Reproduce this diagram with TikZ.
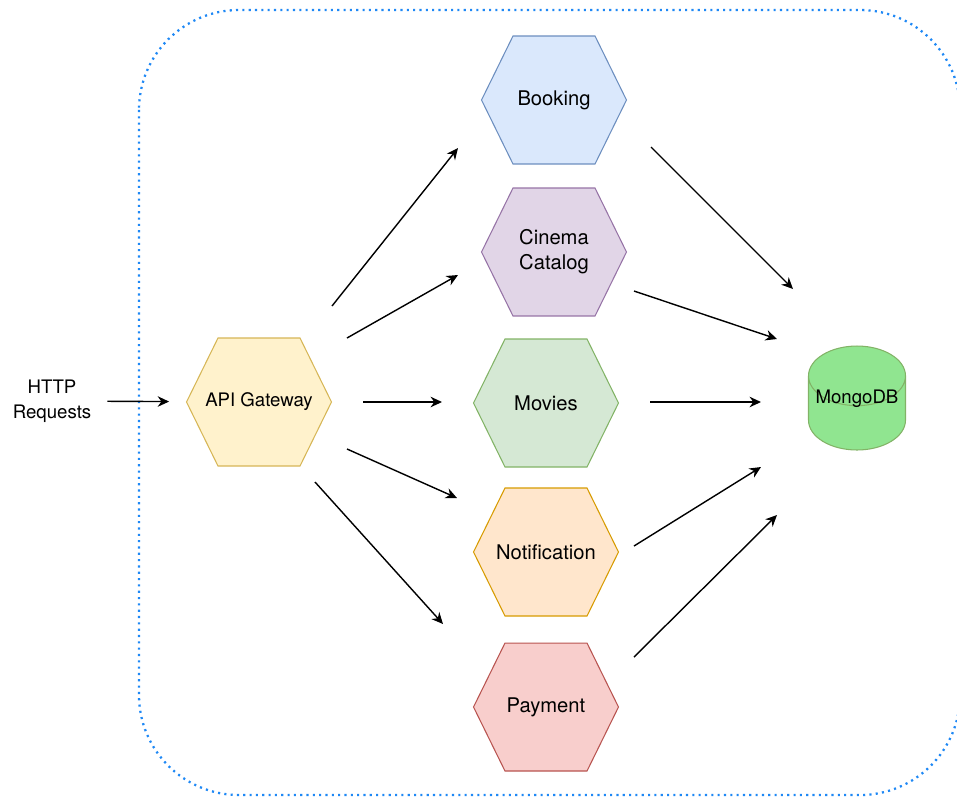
\documentclass[tikz,border=0pt]{standalone}
\usepackage{fontspec}
\setmainfont{TeX Gyre Heros}
\usetikzlibrary{shapes.symbols,shapes.geometric,arrows.meta}

\definecolor{boundary}{HTML}{1E88F5}
\definecolor{gwfill}{HTML}{FFF2CC}\definecolor{gwline}{HTML}{D6B656}
\definecolor{bookfill}{HTML}{DAE8FC}\definecolor{bookline}{HTML}{6C8EBF}
\definecolor{cinefill}{HTML}{E1D5E7}\definecolor{cineline}{HTML}{9673A6}
\definecolor{movfill}{HTML}{D5E8D4}\definecolor{movline}{HTML}{82B366}
\definecolor{notfill}{HTML}{FFE6CC}\definecolor{notline}{HTML}{D79B00}
\definecolor{payfill}{HTML}{F8CECC}\definecolor{payline}{HTML}{B85450}
\definecolor{mongofill}{HTML}{90E590}\definecolor{mongoline}{HTML}{82B366}

\begin{document}
\begin{tikzpicture}[
  x=0.02cm, y=-0.02cm,
  hexa/.style={signal, signal to=east and west, signal pointer angle=127.6, draw, line width=0.6pt,
    minimum width=2.9cm, minimum height=2.56cm, inner ysep=0pt, inner xsep=-0.4cm, align=center,
    font=\fontsize{11.5}{14.2}\selectfont},
  link/.style={-{Stealth[length=6.5pt,width=6pt]}, line width=0.8pt},
  font=\fontsize{10.6}{14.2}\selectfont
]
\useasboundingbox (0,0) rectangle (957,796);

% Boundary
\draw[boundary, line width=1.3pt, dash pattern=on 1.2pt off 2.4pt, rounded corners=2cm] (139,10) rectangle (960,795);

\node[align=center] (http) at (52,401) {HTTP\\Requests};
\node[hexa, fill=gwfill, draw=gwline, font=\fontsize{10.6}{14.2}\selectfont] (gw) at (259,402) {API Gateway};
\node[hexa, fill=bookfill, draw=bookline] (booking) at (554,100) {Booking};
\node[hexa, fill=cinefill, draw=cineline] (cinema) at (554,252) {Cinema\\Catalog};
\node[hexa, fill=movfill, draw=movline] (movies) at (546,403) {Movies};
\node[hexa, fill=notfill, draw=notline] (notif) at (546,552) {Notification};
\node[hexa, fill=payfill, draw=payline] (payment) at (546,707) {Payment};
\node[cylinder, shape border rotate=90, aspect=0.72, draw=mongoline, fill=mongofill, line width=0.6pt,
  minimum width=1.94cm, minimum height=2.08cm, inner sep=0pt, anchor=shape center] (mongo) at (857,398)
  {\raisebox{0.2cm}[0pt][0pt]{MongoDB}};

% Arrow ends
\coordinate (gw-b) at (332,306);  \coordinate (b-in) at (458,148);
\coordinate (gw-c) at (347,338);  \coordinate (c-in) at (458,275);
\coordinate (gw-m) at (363,402);  \coordinate (m-in) at (442,402);
\coordinate (gw-n) at (347,449);  \coordinate (n-in) at (457,498);
\coordinate (gw-p) at (315,482);  \coordinate (p-in) at (443,624);
\coordinate (b-out) at (651,147); \coordinate (db-b) at (793,289);
\coordinate (c-out) at (634,291); \coordinate (db-c) at (777,339);
\coordinate (m-out) at (650,402); \coordinate (db-m) at (761,402);
\coordinate (n-out) at (634,546); \coordinate (db-n) at (761,467);
\coordinate (p-out) at (634,657); \coordinate (db-p) at (777,515);

% Incoming
\draw[link, shorten <=0.2cm, shorten >=0.34cm] (http) -- (gw);

% Gateway to services
\draw[link] (gw-b) -- (b-in);
\draw[link] (gw-c) -- (c-in);
\draw[link] (gw-m) -- (m-in);
\draw[link] (gw-n) -- (n-in);
\draw[link] (gw-p) -- (p-in);

% Services to database
\draw[link] (b-out) -- (db-b);
\draw[link] (c-out) -- (db-c);
\draw[link] (m-out) -- (db-m);
\draw[link] (n-out) -- (db-n);
\draw[link] (p-out) -- (db-p);
\end{tikzpicture}
\end{document}
